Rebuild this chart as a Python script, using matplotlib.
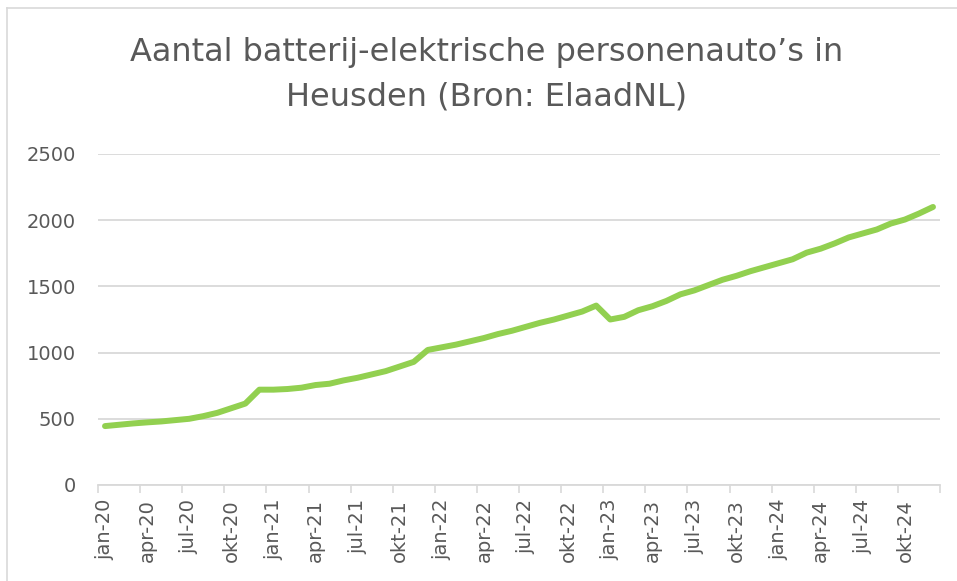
import numpy as np
import matplotlib
matplotlib.use("Agg")
import matplotlib.pyplot as plt
from matplotlib.lines import Line2D

months = ["jan", "feb", "mrt", "apr", "mei", "jun", "jul", "aug", "sep", "okt", "nov", "dec"]
years = ["20", "21", "22", "23", "24"]
categories = [f"{m}-{y}" for y in years for m in months]

values = [
    445, 455, 465, 473, 480, 490, 500, 520, 545, 580, 615, 720,
    720, 725, 735, 755, 765, 790, 810, 835, 860, 895, 930, 1020,
    1040, 1060, 1085, 1110, 1140, 1165, 1195, 1225, 1250, 1280, 1310, 1355,
    1250, 1270, 1320, 1350, 1390, 1440, 1470, 1510, 1550, 1580, 1615, 1645,
    1675, 1705, 1755, 1785, 1825, 1870, 1900, 1930, 1975, 2005, 2050, 2100,
]
yticks = [0, 500, 1000, 1500, 2000, 2500]
title = "Aantal batterij-elektrische personenauto\u2019s in\nHeusden (Bron: ElaadNL)"

W, H = 957, 581
fig = plt.figure(figsize=(W / 100, H / 100), dpi=100)
fig.patch.set_facecolor("white")

# outer chart border (left and top)
fig.add_artist(Line2D([7 / W, 7 / W], [0, 1 - 8 / H], color="#d9d9d9", lw=1.2, transform=fig.transFigure))
fig.add_artist(Line2D([7 / W, 1], [1 - 8 / H, 1 - 8 / H], color="#d9d9d9", lw=1.2, transform=fig.transFigure))

left, right, top, bottom = 98, 940, 154, 485
ax = fig.add_axes([left / W, 1 - bottom / H, (right - left) / W, (bottom - top) / H])

x = np.arange(len(values))
ax.plot(x, values, color="#92D050", lw=4.3, solid_joinstyle="round", solid_capstyle="round", zorder=3)

ax.set_xlim(-0.5, len(values) - 0.5)
ax.set_ylim(0, 2500)
ax.set_yticks(yticks)
ax.yaxis.grid(True, color="#d9d9d9", lw=1.3)
ax.set_axisbelow(True)
ax.tick_params(axis="y", length=0, labelsize=14, labelcolor="#595959", pad=16)

# x axis: tick marks at category boundaries every 3 months, labels on categories
ax.set_xticks(np.arange(-0.5, len(values), 3))
ax.set_xticklabels([])
ax.tick_params(axis="x", which="major", length=6, color="#d9d9d9", width=1.2)
ax.set_xticks(np.arange(0, len(values), 3), minor=True)
ax.set_xticklabels([categories[i] for i in range(0, len(values), 3)], minor=True,
                   rotation=90, fontsize=14, color="#595959")
ax.tick_params(axis="x", which="minor", length=0, pad=10)

for s in ["top", "right", "left"]:
    ax.spines[s].set_visible(False)
ax.spines["bottom"].set_color("#d9d9d9")
ax.spines["bottom"].set_linewidth(1.3)

fig.text(487 / W, 1 - 75 / H, title, ha="center", va="center", fontsize=23,
         family="DejaVu Sans", color="#595959", linespacing=1.58)

fig.savefig("out.png", dpi=100, facecolor="white")
